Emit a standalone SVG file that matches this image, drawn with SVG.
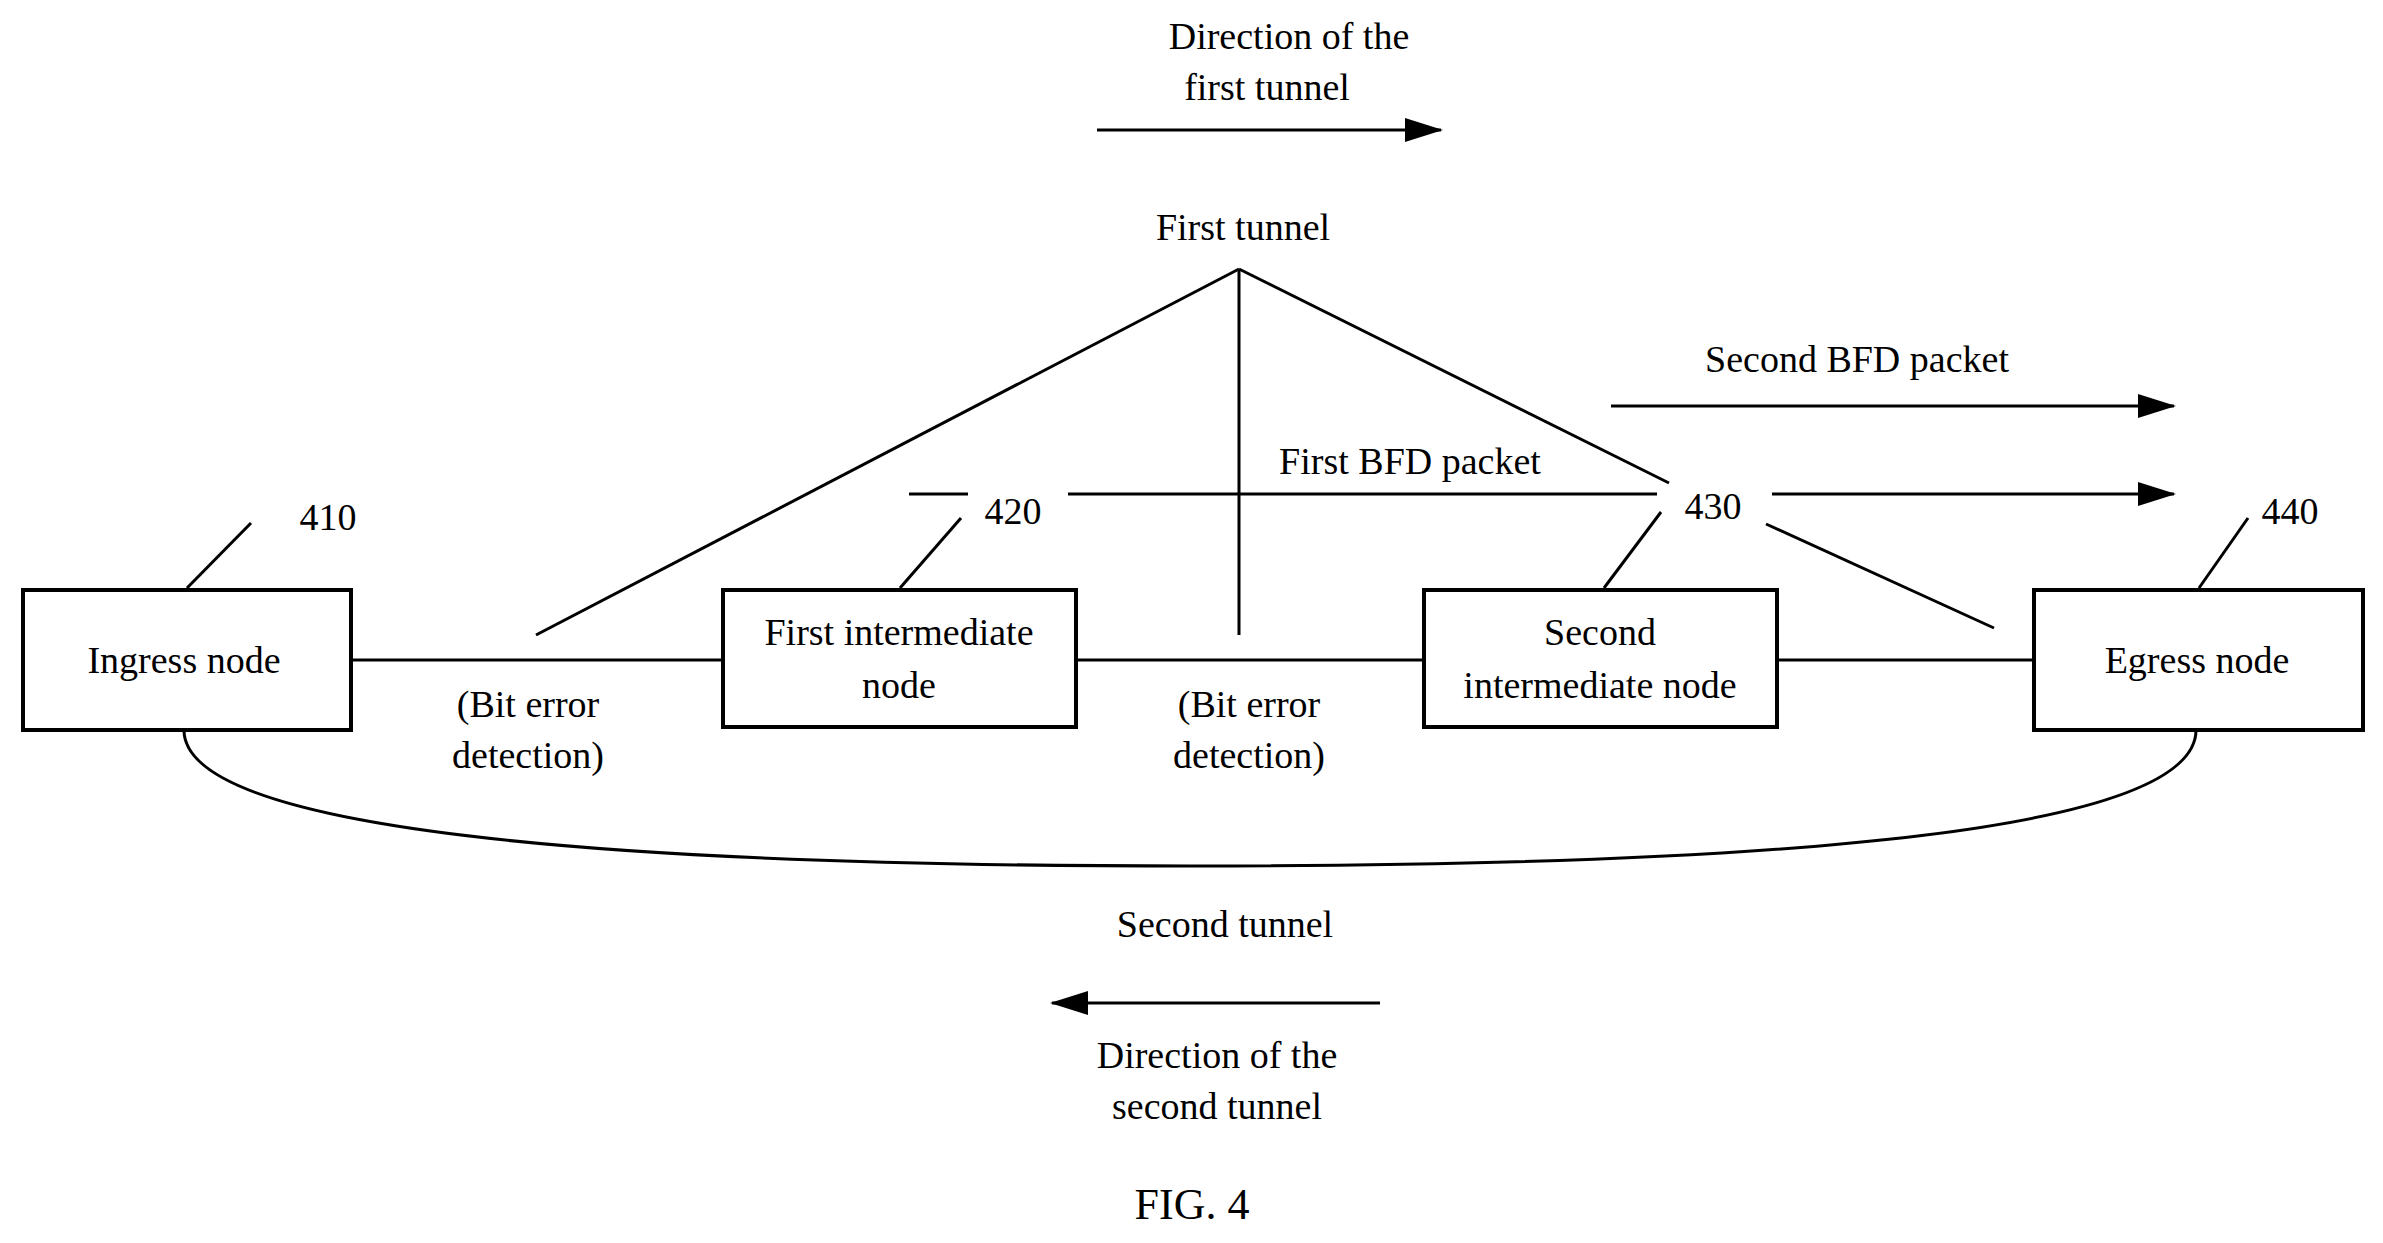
<svg xmlns="http://www.w3.org/2000/svg" width="2383" height="1243" viewBox="0 0 2383 1243">
<defs>
<marker id="ah" markerWidth="10" markerHeight="8" refX="10" refY="4" orient="auto" markerUnits="userSpaceOnUse" viewBox="0 0 10 8">
<path d="M0,0 L10,4 L0,8 Z" fill="#000"/>
</marker>
<style>
text{font-family:"Liberation Serif","Times New Roman",serif;font-size:38px;fill:#000;text-anchor:middle}
.box{fill:#fff;stroke:#000;stroke-width:4}
.ln{stroke:#000;stroke-width:3;fill:none}
.arr{stroke:#000;stroke-width:3;fill:none}
</style>
<marker id="a2" markerWidth="38" markerHeight="24" refX="36" refY="12" orient="auto" markerUnits="userSpaceOnUse"><path d="M0,0 L38,12 L0,24 Z" fill="#000"/></marker>
</defs>
<rect width="2383" height="1243" fill="#fff"/>
<g id="connectors">
<line class="ln" x1="351" y1="660" x2="723" y2="660"/>
<line class="ln" x1="1076" y1="660" x2="1424" y2="660"/>
<line class="ln" x1="1777" y1="660" x2="2034" y2="660"/>
<path class="ln" d="M184,730 C184,830 600,866 1190,866 C1800,866 2196,830 2196,730"/>
<line class="ln" x1="1239" y1="269" x2="536" y2="635"/>
<line class="ln" x1="1239" y1="269" x2="1239" y2="635"/>
<line class="ln" x1="1239" y1="269" x2="1669" y2="483"/>
<line class="ln" x1="1766" y1="524" x2="1994" y2="628"/>
<line class="ln" x1="909" y1="494" x2="968" y2="494"/>
<line class="ln" x1="1068" y1="494" x2="1657" y2="494"/>
<line class="arr" x1="1772" y1="494" x2="2174" y2="494" marker-end="url(#a2)"/>
<line class="arr" x1="1611" y1="406" x2="2174" y2="406" marker-end="url(#a2)"/>
<line class="arr" x1="1097" y1="130" x2="1441" y2="130" marker-end="url(#a2)"/>
<line class="arr" x1="1380" y1="1003" x2="1052" y2="1003" marker-end="url(#a2)"/>
<line class="ln" x1="187" y1="588" x2="251" y2="523"/>
<line class="ln" x1="900" y1="588" x2="961" y2="518"/>
<line class="ln" x1="1604" y1="588" x2="1661" y2="512"/>
<line class="ln" x1="2199" y1="588" x2="2248" y2="518"/>
</g>
<g id="ingress"><rect class="box" x="23" y="590" width="328" height="140"/><text x="184" y="673">Ingress node</text></g>
<g id="first-intermediate"><rect class="box" x="723" y="590" width="353" height="137"/><text x="899" y="645">First intermediate</text><text x="899" y="698">node</text></g>
<g id="second-intermediate"><rect class="box" x="1424" y="590" width="353" height="137"/><text x="1600" y="645">Second</text><text x="1600" y="698">intermediate node</text></g>
<g id="egress"><rect class="box" x="2034" y="590" width="329" height="140"/><text x="2197" y="673">Egress node</text></g>
<g id="labels">
<text x="1289" y="49">Direction of the</text>
<text x="1267" y="100">first tunnel</text>
<text x="1243" y="240">First tunnel</text>
<text x="1857" y="372">Second BFD packet</text>
<text x="1410" y="474">First BFD packet</text>
<text x="328" y="530">410</text>
<text x="1013" y="524">420</text>
<text x="1713" y="519">430</text>
<text x="2290" y="524">440</text>
<text x="528" y="717">(Bit error</text>
<text x="528" y="768">detection)</text>
<text x="1249" y="717">(Bit error</text>
<text x="1249" y="768">detection)</text>
<text x="1225" y="937">Second tunnel</text>
<text x="1217" y="1068">Direction of the</text>
<text x="1217" y="1119">second tunnel</text>
<text x="1192" y="1219" style="font-size:44px">FIG. 4</text>
</g>
</svg>
